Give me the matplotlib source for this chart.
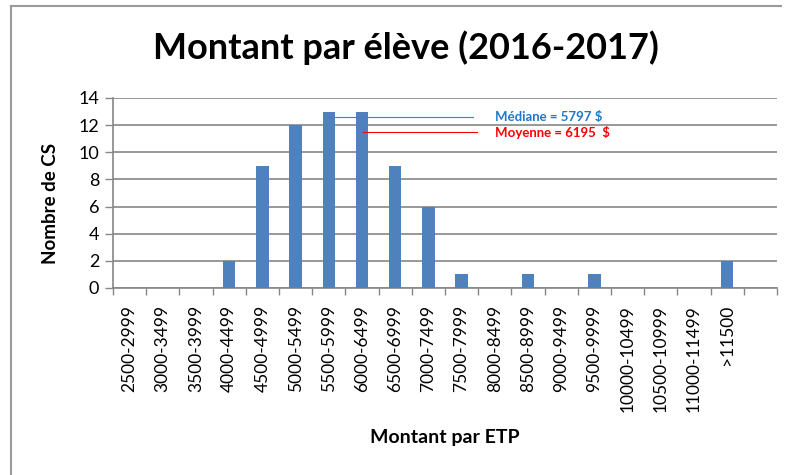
import numpy as np
import matplotlib.pyplot as plt
from matplotlib.lines import Line2D

plt.rcParams['font.family'] = ['Lato', 'DejaVu Sans']

# data
categories = ['2500-2999', '3000-3499', '3500-3999', '4000-4499', '4500-4999',
              '5000-5499', '5500-5999', '6000-6499', '6500-6999', '7000-7499',
              '7500-7999', '8000-8499', '8500-8999', '9000-9499', '9500-9999',
              '10000-10499', '10500-10999', '11000-11499', '>11500', '']
counts = [0, 0, 0, 2, 9, 12, 13, 13, 9, 6, 1, 0, 1, 0, 1, 0, 0, 0, 2, 0]
yticks = [0, 2, 4, 6, 8, 10, 12, 14]
median_label = 'Médiane = 5797 $'
mean_label = 'Moyenne = 6195  $'

grey = '#868686'
fig = plt.figure(figsize=(7.88, 4.75), dpi=100)
ax = fig.add_axes([113/788, 1-288/475, 664/788, 190/475])

x = np.arange(len(categories))
ax.bar(x, counts, width=0.37, color='#4F81BD', zorder=3)
ax.set_xlim(-0.5, len(categories) - 0.5)
ax.set_ylim(0, 14)
ax.set_yticks(yticks)
ax.set_yticklabels([str(v) for v in yticks], fontsize=13)
ax.set_xticks(np.arange(len(categories) + 1) - 0.5, minor=False)
ax.set_xticklabels([])
ax.set_xticks(x, minor=True)
ax.set_xticklabels(categories, minor=True, rotation=90, fontsize=12.5)
ax.tick_params(axis='x', which='minor', length=0, pad=12)
ax.tick_params(axis='x', which='major', length=5, color=grey, width=1)
ax.tick_params(axis='y', length=6, color=grey, width=1, pad=4)
ax.grid(axis='y', color=grey, linewidth=1.2, zorder=0)
for s in ['top', 'right']:
    ax.spines[s].set_visible(False)
for s in ['left', 'bottom']:
    ax.spines[s].set_color(grey)
    ax.spines[s].set_linewidth(1.2)

# median / mean markers
ax.plot([5.89, 10.35], [12.6, 12.6], color='#1F8FD8', lw=0.8, zorder=4)
ax.text(11.0, 12.6, median_label, color='#1F78C8', fontsize=9.5,
        fontweight='bold', va='center')
ax.plot([7.03, 10.45], [11.5, 11.5], color='red', lw=0.8, zorder=4)
ax.text(11.0, 11.45, mean_label, color='red', fontsize=9.5,
        fontweight='bold', va='center')

fig.text(406/788, 1-48/475, 'Montant par élève (2016-2017)', fontsize=26,
         fontweight='bold', ha='center', va='center')
fig.text(445/788, 1-438/475, 'Montant par ETP', fontsize=14,
         fontweight='bold', ha='center', va='center')
fig.text(50/788, 1-203/475, 'Nombre de CS', fontsize=13.5, fontweight='bold',
         rotation=90, ha='center', va='center')

# outer frame
fig.add_artist(Line2D([11/788, 11/788], [0, 1-6/475], color='#9a9a9a', lw=1.5))
fig.add_artist(Line2D([11/788, 781/788], [1-6/475, 1-6/475], color='#9a9a9a', lw=1.5))

fig.savefig('out.png', dpi=100)
